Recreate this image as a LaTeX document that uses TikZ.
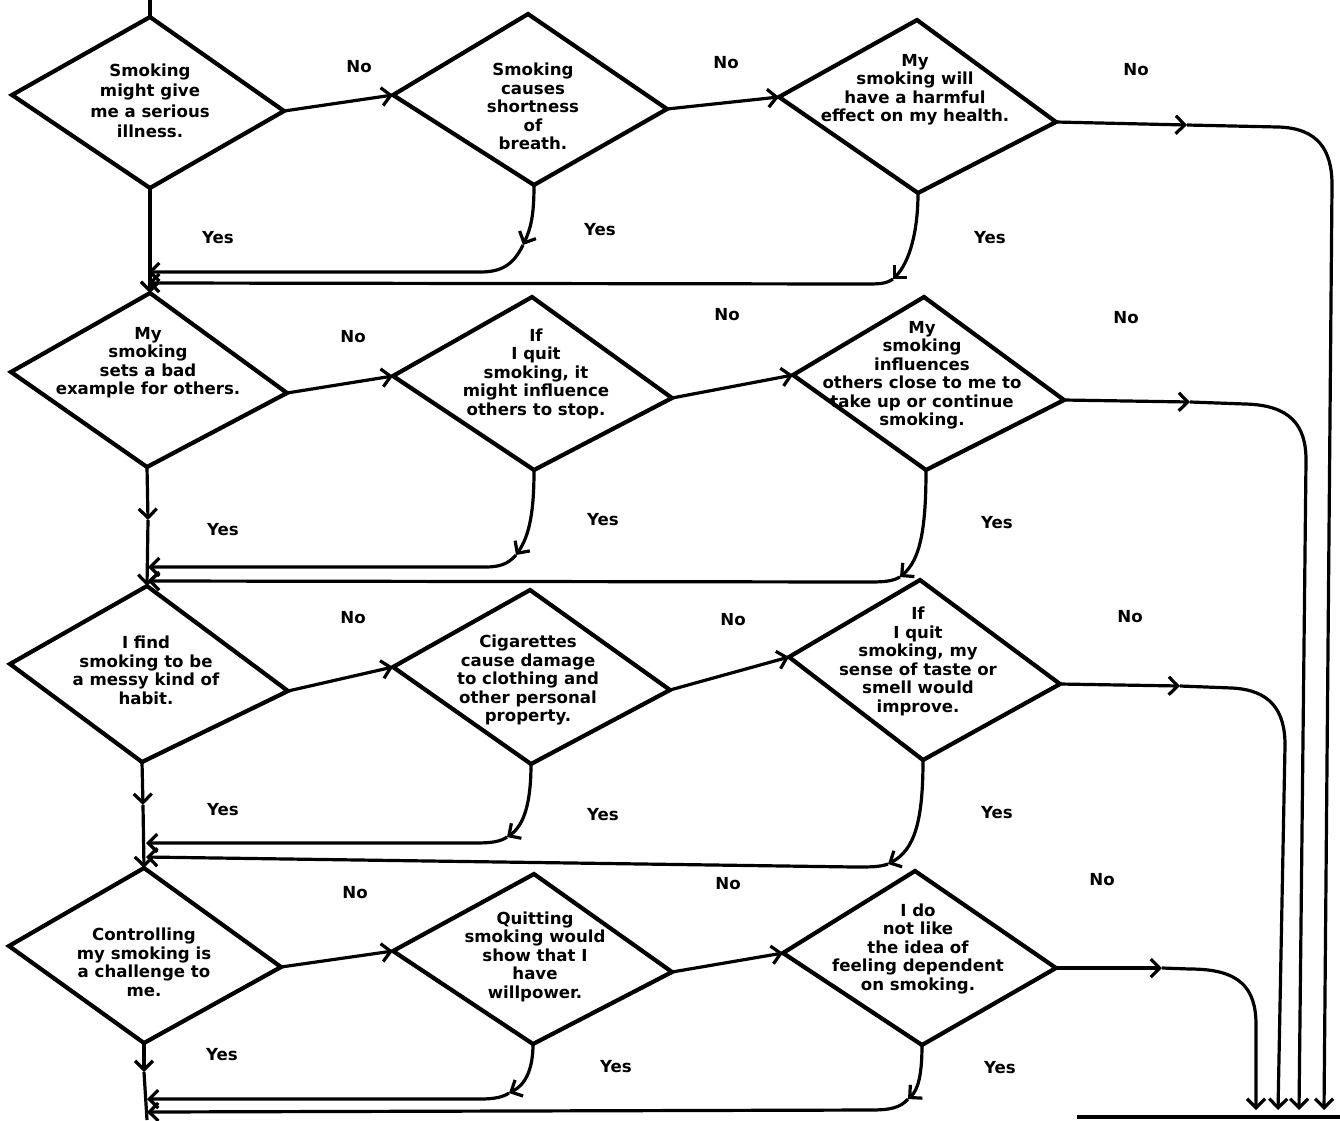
\documentclass[tikz,border=0pt]{standalone}
\usepackage{fontspec}
\setmainfont{DejaVu Sans}
\usetikzlibrary{arrows.meta}
\newcommand{\Dmd}[5]{%
  \coordinate (#1t) at #2; \coordinate (#1r) at #3; \coordinate (#1b) at #4; \coordinate (#1l) at #5;
  \draw[dline] (#1t) -- (#1r) -- (#1b) -- (#1l) -- cycle;}
\begin{document}
\begin{tikzpicture}[x=1pt,y=-1pt,
  dline/.style={line width=4.2pt,line join=miter},
  conn/.style={line width=3.2pt},
  arr/.style={-{Straight Barb[length=9pt,width=18pt]}},
  txt/.style={font=\bfseries\fontsize{16.6}{18.5}\selectfont,align=center,inner sep=0pt},
  txtw/.style={font=\bfseries\fontsize{16.6}{20.5}\selectfont,align=center,inner sep=0pt},
  lbl/.style={font=\bfseries\fontsize{16.6}{18}\selectfont,inner sep=0pt}]
\useasboundingbox[fill=white] (0,0) rectangle (1340,1120);

% diamonds (top, right, bottom, left)
\Dmd{a}{(150,17)}{(284,111)}{(150,188)}{(12,95)}
\Dmd{b}{(528,14)}{(667,109)}{(534,185)}{(393,95)}
\Dmd{c}{(917,20)}{(1056,122)}{(918,193)}{(779,97)}
\Dmd{d}{(150,293)}{(287,393)}{(147,467)}{(11,372)}
\Dmd{e}{(532,297)}{(672,398)}{(534,470)}{(393,376)}
\Dmd{f}{(924,297)}{(1064,400)}{(926,470)}{(793,375)}
\Dmd{g}{(147,586)}{(288,691)}{(142,762)}{(10,664)}
\Dmd{h}{(530,590)}{(670,690)}{(531,764)}{(393,667)}
\Dmd{i}{(920,580)}{(1060,684)}{(923,760)}{(789,657)}
\Dmd{j}{(144,868)}{(281,967)}{(144,1043)}{(9,946)}
\Dmd{k}{(534,874)}{(672,972)}{(533,1044)}{(393,951)}
\Dmd{l}{(915,871)}{(1056,968)}{(922,1045)}{(783,953)}

% diamond texts
\node[txtw] (ta) at (150,101) {Smoking\\might give\\me a serious\\illness.};
\node[txt] (tb) at (533,106.5) {Smoking\\causes\\shortness\\of\\breath.};
\node[txt] (tc) at (915,89.5) {My\\smoking will\\have a harmful\\effect on my health.};
\node[txt] (td) at (148,362.5) {My\\smoking\\sets a bad\\example for others.};
\node[txt] (te) at (536,373.5) {If\\I quit\\smoking, it\\might influence\\others to stop.};
\node[txt] (tf) at (922,375) {My\\smoking\\influences\\others close to me to\\take up or continue\\smoking.};
\node[txt] (tg) at (146,670.5) {I find\\smoking to be\\a messy kind of\\habit.};
\node[txt] (th) at (528,680) {Cigarettes\\cause damage\\to clothing and\\other personal\\property.};
\node[txt] (ti) at (918,661.5) {If\\I quit\\smoking, my\\sense of taste or\\smell would\\improve.};
\node[txt] (tj) at (144,962.5) {Controlling\\my smoking is\\a challenge to\\me.};
\node[txt] (tk) at (535,956.5) {Quitting\\smoking would\\show that I\\have\\willpower.};
\node[txt] (tl) at (918,948.5) {I do\\not like\\the idea of\\feeling dependent\\on smoking.};

% labels
\node[lbl] (n1) at (359,67) {No};
\node[lbl] (n2) at (726,63) {No};
\node[lbl] (n3) at (1136,70) {No};
\node[lbl] (n4) at (353,337) {No};
\node[lbl] (n5) at (727,315) {No};
\node[lbl] (n6) at (1126,318) {No};
\node[lbl] (n7) at (353,618) {No};
\node[lbl] (n8) at (733,620) {No};
\node[lbl] (n9) at (1130,617) {No};
\node[lbl] (n10) at (355,893) {No};
\node[lbl] (n11) at (728,884) {No};
\node[lbl] (n12) at (1102,880) {No};
\node[lbl] (y1) at (218,238) {Yes};
\node[lbl] (y2) at (600,230) {Yes};
\node[lbl] (y3) at (990,238) {Yes};
\node[lbl] (y4) at (223,530) {Yes};
\node[lbl] (y5) at (603,520) {Yes};
\node[lbl] (y6) at (997,523) {Yes};
\node[lbl] (y7) at (223,810) {Yes};
\node[lbl] (y8) at (603,815) {Yes};
\node[lbl] (y9) at (997,813) {Yes};
\node[lbl] (y10) at (222,1055) {Yes};
\node[lbl] (y11) at (616,1067) {Yes};
\node[lbl] (y12) at (1000,1068) {Yes};

% "No" connectors between diamonds
\draw[conn,arr] (ar) -- (bl);
\draw[conn,arr] (br) -- (cl);
\draw[conn,arr] (dr) -- (el);
\draw[conn,arr] (er) -- (fl);
\draw[conn,arr] (gr) -- (hl);
\draw[conn,arr] (hr) -- (il);
\draw[conn,arr] (jr) -- (kl);
\draw[conn,arr] (kr) -- (ll);

% left spine
\coordinate (s0) at (150,0);
\coordinate (m2) at (148,520);
\coordinate (m3) at (143,805);
\coordinate (m4) at (144,1072);
\coordinate (sB) at (147,1120);
\draw[conn] (s0) -- (at);
\draw[conn,arr] (ab) -- (dt);
\draw[conn,arr] (db) -- (m2);
\draw[conn,arr] (m2) -- (gt);
\draw[conn,arr] (gb) -- (m3);
\draw[conn,arr] (m3) -- (jt);
\draw[conn,arr] (jb) -- (m4);
\draw[conn] (m4) -- (sB);

% "Yes" returns
\coordinate (r1m) at (523,245);  \coordinate (r1e) at (148,272);
\coordinate (r2m) at (893,279);  \coordinate (r2e) at (148,283);
\coordinate (r3m) at (516,555);  \coordinate (r3e) at (148,567);
\coordinate (r4m) at (900,577);  \coordinate (r4e) at (148,581);
\coordinate (r5m) at (507,837);  \coordinate (r5e) at (146,843);
\coordinate (r6m) at (888,864);  \coordinate (r6e) at (146,857);
\coordinate (r7m) at (509,1093); \coordinate (r7e) at (147,1099);
\coordinate (r8m) at (908,1099); \coordinate (r8e) at (147,1112);

\draw[conn,arr] (bb) .. controls (534,215) and (531,228) .. (r1m);
\draw[conn,arr] (r1m) .. controls (513,266) and (500,272) .. (480,272) -- (r1e);
\draw[conn,arr] (cb) .. controls (918,230) and (910,262) .. (r2m);
\draw[conn,arr] (r2m) .. controls (886,284) and (878,284) .. (865,284) -- (r2e);
\draw[conn,arr] (eb) .. controls (534,510) and (530,535) .. (r3m);
\draw[conn,arr] (r3m) .. controls (508,564) and (500,567) .. (485,567) -- (r3e);
\draw[conn,arr] (fb) .. controls (926,530) and (920,560) .. (r4m);
\draw[conn,arr] (r4m) .. controls (893,581) and (885,582) .. (870,582) -- (r4e);
\draw[conn,arr] (hb) .. controls (531,800) and (525,825) .. (r5m);
\draw[conn,arr] (r5m) .. controls (500,842) and (490,843) .. (475,843) -- (r5e);
\draw[conn,arr] (ib) .. controls (923,820) and (915,850) .. (r6m);
\draw[conn,arr] (r6m) .. controls (880,867) and (870,867) .. (855,867) -- (r6e);
\draw[conn,arr] (kb) .. controls (533,1070) and (525,1085) .. (r7m);
\draw[conn,arr] (r7m) .. controls (503,1097) and (495,1099) .. (480,1099) -- (r7e);
\draw[conn,arr] (lb) .. controls (922,1075) and (918,1090) .. (r8m);
\draw[conn,arr] (r8m) .. controls (900,1108) and (890,1110) .. (870,1110) -- (r8e);

% right-hand exits
\coordinate (x1m) at (1187,125); \coordinate (x1c) at (1278,127); \coordinate (x1d) at (1332,185); \coordinate (x1e) at (1324,1110);
\coordinate (x2m) at (1190,402); \coordinate (x2c) at (1245,404); \coordinate (x2d) at (1306,460); \coordinate (x2e) at (1299,1110);
\coordinate (x3m) at (1180,686); \coordinate (x3c) at (1232,688); \coordinate (x3d) at (1285,745); \coordinate (x3e) at (1278,1110);
\coordinate (x4m) at (1162,968); \coordinate (x4c) at (1190,969); \coordinate (x4d) at (1256,1025); \coordinate (x4e) at (1256,1110);
\draw[conn,arr] (cr) -- (x1m);
\draw[conn,arr] (x1m) -- (x1c) .. controls (1318,128) and (1332,150) .. (x1d) -- (x1e);
\draw[conn,arr] (fr) -- (x2m);
\draw[conn,arr] (x2m) -- (x2c) .. controls (1290,405) and (1306,425) .. (x2d) -- (x2e);
\draw[conn,arr] (ir) -- (x3m);
\draw[conn,arr] (x3m) -- (x3c) .. controls (1270,690) and (1285,710) .. (x3d) -- (x3e);
\draw[conn,arr] (lr) -- (x4m);
\draw[conn,arr] (x4m) -- (x4c) .. controls (1240,969) and (1256,988) .. (x4d) -- (x4e);

% bottom line
\coordinate (hz0) at (1077,1117);
\coordinate (hz1) at (1340,1117);
\draw[conn] (hz0) -- (hz1);
\end{tikzpicture}
\end{document}
